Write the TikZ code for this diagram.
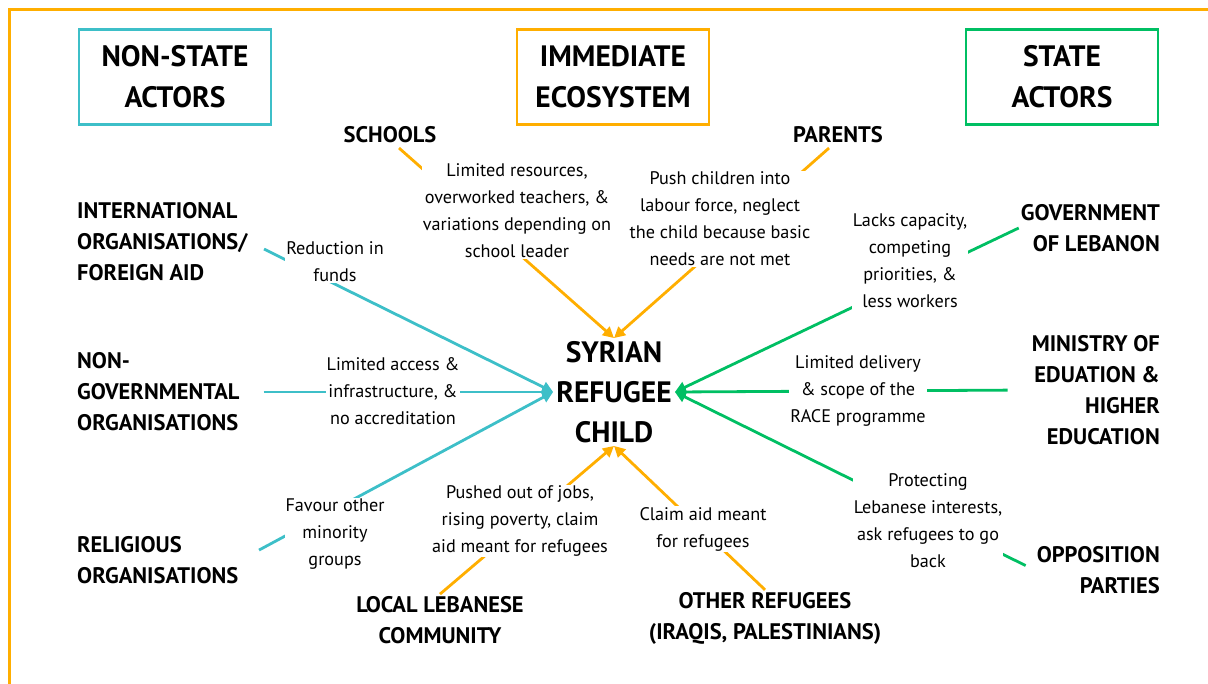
\documentclass[tikz,border=0pt]{standalone}
\usepackage{fontspec}
\setmainfont{PT Sans}
\usetikzlibrary{arrows.meta}
\definecolor{tealc}{HTML}{3DBFC8}
\definecolor{orangec}{HTML}{FFAE00}
\definecolor{greenc}{HTML}{00BF63}

\begin{document}
\begin{tikzpicture}[x=1pt,y=-1pt,
    header/.style={draw,line width=2.6pt,minimum width=192pt,minimum height=95pt,align=center,font=\fontsize{29.5}{41}\selectfont\bfseries},
    actor/.style={inner sep=2pt,font=\fontsize{22.5}{31}\selectfont\bfseries},
    note/.style={fill=white,align=center,inner sep=1pt,font=\fontsize{18.2}{27}\selectfont},
    link/.style={line width=2.8pt},
    tip/.style={-{Triangle[length=11pt,width=11pt]}}]

    \useasboundingbox (0,0) rectangle (1208,684);

    % The frame
    \draw[orangec,line width=3pt] (9,10) rectangle (1240,720);

    % Place the three headers
    \node[header,draw=tealc] (nonstate) at (175,77) {NON-STATE\\ACTORS};
    \node[header,draw=orangec] (ecosystem) at (613,77) {IMMEDIATE\\ECOSYSTEM};
    \node[header,draw=greenc] (state) at (1062,77) {STATE\\ACTORS};

    % Place the child
    \node[align=center,inner sep=3pt,font=\fontsize{29.5}{40}\selectfont\bfseries] (child) at (614,392) {SYRIAN\\REFUGEE\\CHILD};

    % Place the actors
    \node[actor] (schools) at (390,135) {SCHOOLS};
    \node[actor] (parents) at (838,135) {PARENTS};
    \node[actor,anchor=west,align=left] (intl) at (75,242) {INTERNATIONAL\\ORGANISATIONS/\\FOREIGN AID};
    \node[actor,anchor=west,align=left] (ngo) at (75,392) {NON-\\GOVERNMENTAL\\ORGANISATIONS};
    \node[actor,anchor=west,align=left] (rel) at (75,560) {RELIGIOUS\\ORGANISATIONS};
    \node[actor,anchor=east,align=right] (gov) at (1162,228) {GOVERNMENT\\OF LEBANON};
    \node[actor,anchor=east,align=right] (min) at (1162,390) {MINISTRY OF\\EDUATION \&\\HIGHER\\EDUCATION};
    \node[actor,anchor=east,align=right] (opp) at (1162,570) {OPPOSITION\\PARTIES};
    \node[actor,align=center] (local) at (440,620) {LOCAL LEBANESE\\COMMUNITY};
    \node[actor,align=center] (other) at (765,618) {OTHER REFUGEES\\(IRAQIS, PALESTINIANS)};

    % Draw the links to the child
    \draw[link,tip,tealc,shorten <=16pt] (intl.east) -- (child.west);
    \draw[link,tip,tealc,shorten <=22pt] (ngo.east) -- (child.west);
    \draw[link,tip,tealc,shorten <=21pt] (rel.east) -- (child.west);
    \draw[link,tip,orangec,shorten <=4pt] (schools.-60) -- (child.north);
    \draw[link,tip,orangec,shorten <=4pt] (parents.-120) -- (child.north);
    \draw[link,tip,greenc] (gov.west) -- (child.east);
    \draw[link,tip,greenc,shorten <=22pt] (min.west) -- (child.east);
    \draw[link,tip,greenc,shorten <=10pt] (opp.west) -- (child.east);
    \draw[link,tip,orangec] (local.north) -- (child.south);
    \draw[link,tip,orangec] (other.north) -- (child.south);

    % Place the notes over the links
    \node[note] (schoolsTxt) at (517,211) {Limited resources,\\overworked teachers, \&\\variations depending on\\school leader};
    \node[note] (parentsTxt) at (720,219) {Push children into\\labour force, neglect\\the child because basic\\needs are not met};
    \node[note] (fundsTxt) at (335,262) {Reduction in\\funds};
    \node[note] (accessTxt) at (393,391) {Limited access \&\\infrastructure, \&\\no accreditation};
    \node[note] (favourTxt) at (335,534) {Favour other\\minority\\groups};
    \node[note] (govTxt) at (910,261) {Lacks capacity,\\competing\\priorities, \&\\less workers};
    \node[note] (minTxt) at (858,391) {Limited delivery\\\& scope of the\\RACE programme};
    \node[note] (protectTxt) at (928,521) {Protecting\\Lebanese interests,\\ask refugees to go\\back};
    \node[note] (localTxt) at (520,521) {Pushed out of jobs,\\rising poverty, claim\\aid meant for refugees};
    \node[note] (otherTxt) at (703,529) {Claim aid meant\\for refugees};

\end{tikzpicture}
\end{document}
